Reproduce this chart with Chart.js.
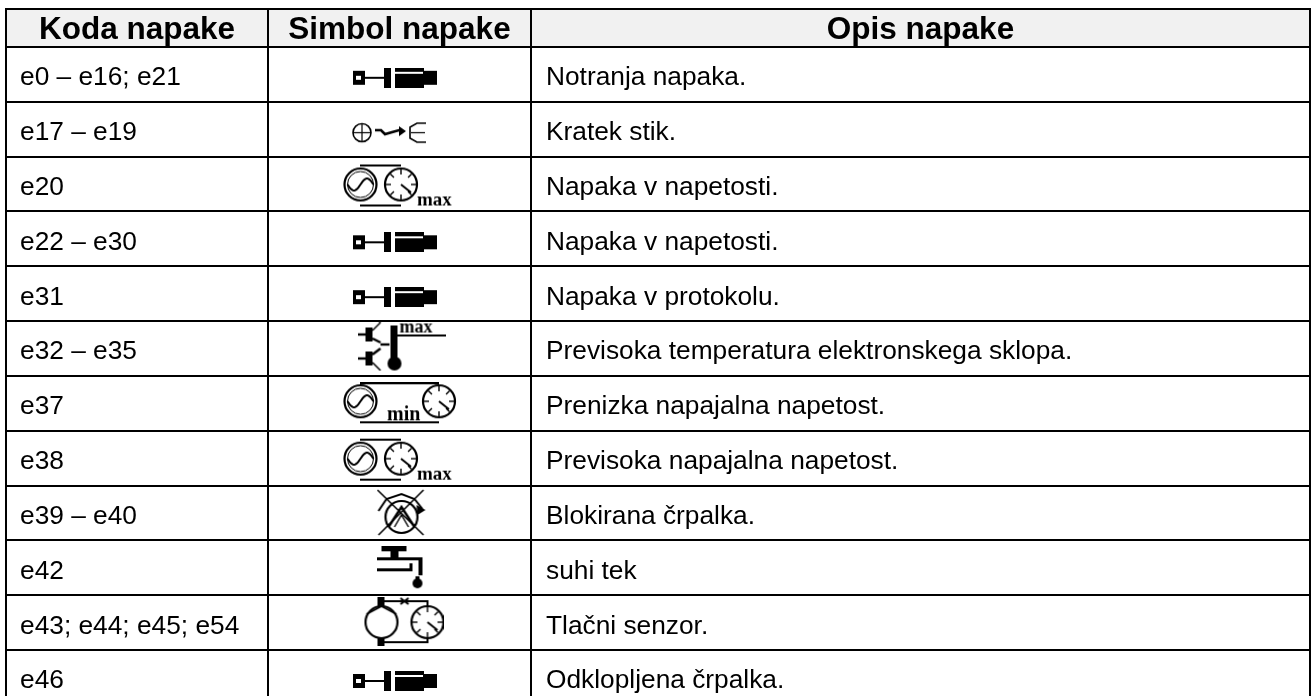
<!DOCTYPE html>
<html><head><meta charset="utf-8">
<style>html,body{margin:0;padding:0;background:#fff;overflow:hidden}#w{width:1311px;height:696px}</style>
<script src="https://cdn.jsdelivr.net/npm/chart.js@4"></script></head>
<body><div id="w"><canvas id="c"></canvas></div>
<script>
const headers = ["Koda napake","Simbol napake","Opis napake"];
const codes = ["e0 – e16; e21","e17 – e19","e20","e22 – e30","e31","e32 – e35","e37","e38","e39 – e40","e42","e43; e44; e45; e54","e46"];
const symbols = ["pump","short","max","pump","pump","temp","min","max","blocked","dry","sensor","pump"];
const descriptions = ["Notranja napaka.","Kratek stik.","Napaka v napetosti.","Napaka v napetosti.","Napaka v protokolu.","Previsoka temperatura elektronskega sklopa.","Prenizka napajalna napetost.","Previsoka napajalna napetost.","Blokirana črpalka.","suhi tek","Tlačni senzor.","Odklopljena črpalka."];
const columnEdges = [6,268,531,1310];
const FONT='"Liberation Sans", Arial, sans-serif';
const SERIF='"Liberation Serif",serif';
const HEAD_TOP=-1.191, HEAD_BOTTOM=-0.503;
const iconNudge={pump:[-4.5,3.5],short:[-10.5,3.5],max:[0,1.5],temp:[2,-1.5],min:[0.5,0],blocked:[2,0],dry:[1,0],sensor:[4,-1]};

function icon(w,h,fn){const c=document.createElement('canvas');c.width=w;c.height=h;const g=c.getContext('2d');
  g.strokeStyle='#000';g.fillStyle='#000';g.lineWidth=1.5;g.filter='blur(0.45px)';fn(g,w,h);return c;}
function circ(g,x,y,r,lw){g.lineWidth=lw||2;g.beginPath();g.arc(x,y,r,0,7);g.stroke();}
function line(g,a,lw){g.lineWidth=lw||1.5;g.beginPath();a.forEach((p,i)=>i?g.lineTo(p[0],p[1]):g.moveTo(p[0],p[1]));g.stroke();}
function gauge(g,x,y,r){circ(g,x,y,r,2.2);for(let i=0;i<8;i++){const t=i*Math.PI/4;line(g,[[x+Math.cos(t)*(r-6),y+Math.sin(t)*(r-6)],[x+Math.cos(t)*(r-1),y+Math.sin(t)*(r-1)]],1.4);}line(g,[[x,y],[x+10,y+8]],2);}
function wave(g,x,y,r){circ(g,x,y,r,2.2);circ(g,x,y,r-3,1);g.lineWidth=2;g.beginPath();for(let i=-r+3;i<=r-3;i++){const yy=y-Math.sin(i/(r-3)*Math.PI)*6;i===-r+3?g.moveTo(x+i,yy):g.lineTo(x+i,yy);}g.stroke();}
const icons={
 pump:icon(84,20,g=>{g.fillRect(0,3,12,14);g.clearRect(3,8,5,4);line(g,[[12,10],[31,10]],2);g.fillRect(31,0,7,20);g.fillRect(42,0,29,20);g.fillRect(71,3,13,14);g.fillStyle='#fff';g.fillRect(42,4,28,2);g.fillRect(39,8,2,3);}),
 short:icon(74,23,g=>{circ(g,10,11.5,9,1.6);line(g,[[1,11.5],[19,11.5]],1.2);line(g,[[10,2],[10,21]],1.2);line(g,[[23,9],[29,9],[33,13],[40,11],[47,9],[50,10]],2.6);g.beginPath();g.moveTo(54,10);g.lineTo(47,5);g.lineTo(47,15);g.fill();line(g,[[74,2],[65,2],[58,6],[58,17],[65,21],[74,21]],1.6);line(g,[[59,11.5],[73,11.5]],1.2);}),
 max:icon(113,44,g=>{line(g,[[17,2],[58,2]],2);line(g,[[17,42],[58,42]],2);wave(g,17.5,21,16);gauge(g,58,21,16);g.font='bold 19px '+SERIF;g.fillText('max',74,42);}),
 min:icon(114,42,g=>{line(g,[[17,1],[96,1]],2);line(g,[[17,40],[96,40]],2);wave(g,17.5,19,16);gauge(g,96,19,16);g.font='bold 20px '+SERIF;g.fillText('min',44,38);}),
 temp:icon(88,49,g=>{line(g,[[0,12],[8,12]],2.4);line(g,[[0,36],[8,36]],2.4);g.fillRect(8,5,7,14);g.fillRect(8,29,7,14);line(g,[[15,8],[23,0]],1.4);line(g,[[15,16],[23,20]],2.4);line(g,[[15,32],[23,26]],2.4);line(g,[[15,40],[23,48]],1.6);line(g,[[23,22],[32,22]],2.4);g.fillRect(33,3,7,34);g.beginPath();g.arc(37,41,7,0,7);g.fill();line(g,[[40,13],[88,13]],2);g.font='bold 18px '+SERIF;g.fillText('max',42,10);}),
 blocked:icon(50,48,g=>{circ(g,25,28,16,2.2);line(g,[[1,1],[47,46]],1.6);line(g,[[47,1],[2,46]],1.6);line(g,[[2,22],[10,10],[25,5],[38,10],[46,20]],2);line(g,[[12,38],[25,18],[38,38]],2.4);line(g,[[18,38],[25,26],[32,38]],1.4);g.beginPath();g.moveTo(49,21);g.lineTo(40,16);g.lineTo(41,26);g.fill();}),
 dry:icon(48,43,g=>{g.fillRect(5,0,25,5);g.fillRect(14,5,8,6);g.fillRect(0,11,44,3);g.fillRect(42,11,4,18);g.fillRect(0,22,36,3);g.fillRect(33,17,3,8);g.beginPath();g.arc(41,37,5,0,7);g.fill();g.fillRect(39,30,4,4);}),
 sensor:icon(80,49,g=>{circ(g,18,25,16,2.2);line(g,[[3,17],[18,9],[33,17]],1.8);g.fillRect(14,0,7,9);g.fillRect(14,41,7,8);line(g,[[21,4],[64,4],[64,9]],2);line(g,[[21,45],[64,45],[64,41]],2);line(g,[[37,1],[45,7]],2);line(g,[[45,1],[37,7]],2);gauge(g,64,25,16);})
};

const symbolColumnCenter=(columnEdges[1]+columnEdges[2])/2;

const tablePlugin={id:'table',
 beforeDraw(ch){const {ctx}=ch,x=ch.scales.x,y=ch.scales.y;
  const t=y.getPixelForValue(HEAD_TOP),b=y.getPixelForValue(HEAD_BOTTOM),l=x.getPixelForValue(columnEdges[0]),r=x.getPixelForValue(columnEdges[3]);
  ctx.fillStyle='#f1f1f1';ctx.fillRect(l,t,r-l,b-t);},
 afterDatasetsDraw(ch){const {ctx}=ch,x=ch.scales.x,y=ch.scales.y;ctx.save();ctx.fillStyle='#000';ctx.textBaseline='alphabetic';ctx.filter='blur(0.35px)';
  ctx.font='bold 31.5px '+FONT;ctx.textAlign='center';
  headers.forEach((h,i)=>ctx.fillText(h,x.getPixelForValue((columnEdges[i]+columnEdges[i+1])/2),y.getPixelForValue(-0.85)+11));
  ctx.font='26.3px '+FONT;ctx.textAlign='left';
  codes.forEach((t,i)=>ctx.fillText(t,x.getPixelForValue(columnEdges[0]+14),y.getPixelForValue(i)+11));
  descriptions.forEach((t,i)=>ctx.fillText(t,x.getPixelForValue(columnEdges[2]+15),y.getPixelForValue(i)+11));
  ctx.restore();
 }
};

new Chart(document.getElementById('c'),{type:'scatter',
 data:{datasets:[{data:symbols.map((s,i)=>({x:symbolColumnCenter+iconNudge[s][0],y:i+iconNudge[s][1]/54.83})),pointStyle:c=>icons[symbols[c.dataIndex]],pointRadius:10,pointHoverRadius:10,clip:false}]},
 plugins:[tablePlugin],
 options:{responsive:true,maintainAspectRatio:false,animation:false,events:[],layout:{padding:{left:5,top:8,right:0,bottom:0},autoPadding:false},
  plugins:{legend:{display:false},tooltip:{enabled:false},title:{display:false}},
  scales:{
   x:{type:'linear',position:'top',min:5,max:1311,display:true,border:{display:false},
      afterFit(a){a.height=0;},
      afterBuildTicks(a){a.ticks=columnEdges.map(v=>({value:v}));},
      ticks:{display:false},grid:{color:'#000',lineWidth:2,drawTicks:false}},
   y:{type:'linear',position:'left',min:-1.209,max:11.338,reverse:true,display:true,border:{display:false},
      afterFit(a){a.width=0;},
      afterBuildTicks(a){a.ticks=[HEAD_TOP,HEAD_BOTTOM,...codes.slice(1).map((_,i)=>i+0.5)].map(v=>({value:v}));},
      ticks:{display:false},grid:{color:'#000',lineWidth:2,drawTicks:false}}
  }}});
</script></body></html>
